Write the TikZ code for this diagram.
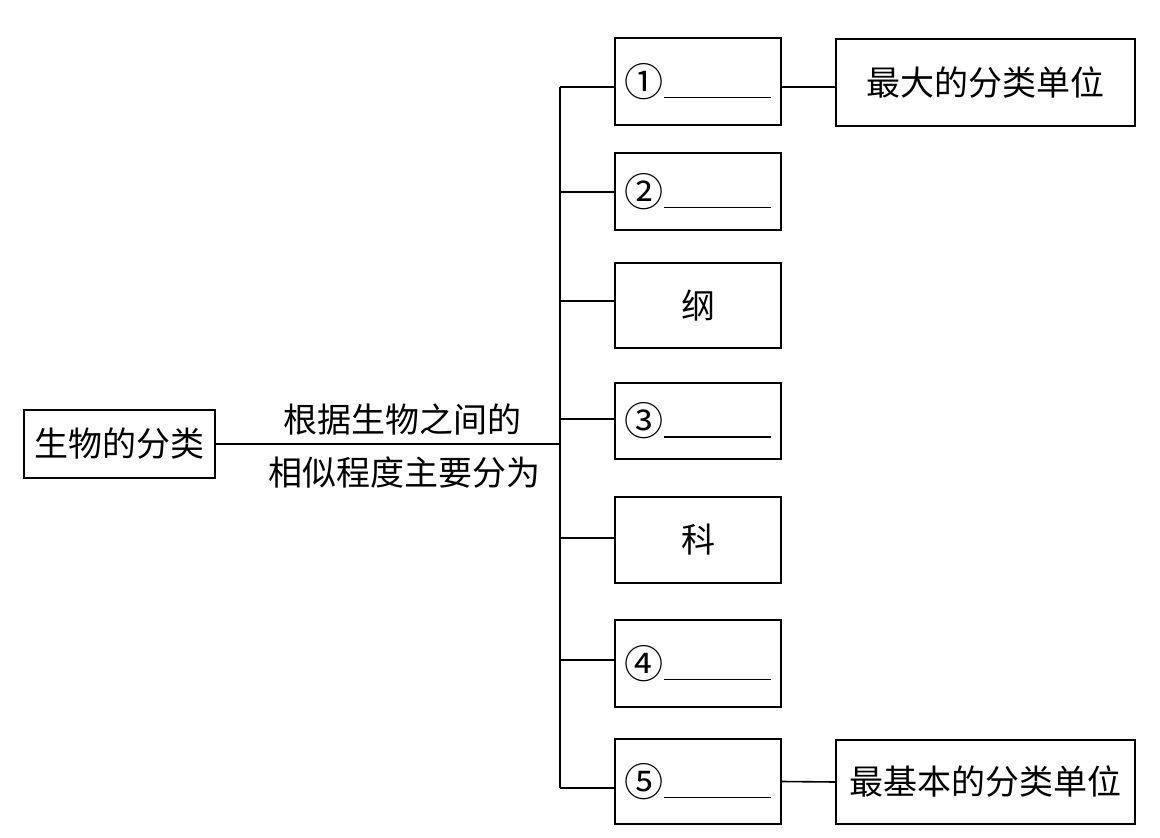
\documentclass[tikz,border=0pt]{standalone}
\usepackage{fontspec}
\setmainfont{Noto Sans CJK SC}
\usetikzlibrary{positioning}
\newcommand{\fillin}{\rule[-4pt]{107pt}{1.6pt}}
\newcommand{\circnum}[1]{\raisebox{-2pt}{\scalebox{1.15}{#1}}\fillin}

\begin{document}
\begin{tikzpicture}[x=1pt,y=-1pt,line width=1.6pt,font=\fontsize{34}{40}\selectfont,
  box/.style={draw,minimum height=#1,inner sep=0pt},
  rank/.style={box=#1,minimum width=166pt}]
\useasboundingbox (0,0) rectangle (1160,838);
\node[box=68pt,minimum width=191pt] (cls) at (119.5,444) {生物的分类};
\node (upper) at (402,420) {根据生物之间的};
\node (lower) at (404.5,473) {相似程度主要分为};
\foreach \y/\h/\txt [count=\i] in {81.5/87/{\circnum{①}},191.5/77/{\circnum{②}},305.5/85/{纲},
  421/76/{\circnum{③}},540/86/{科},663.5/87/{\circnum{④}},781.5/85/{\circnum{⑤}}}
  \node[rank=\h pt] (b\i) at (698,\y) {\txt};
\foreach \y [count=\i] in {87,192,301,419,538,660,788}
  \coordinate (t\i) at (560,\y);
\node[box=87pt,minimum width=299pt] (top) at (985.5,82.5) {最大的分类单位};
\node[box=84pt,minimum width=299pt] (bottom) at (985.5,782) {最基本的分类单位};
\draw (t1) -- (t7);
\foreach \i in {1,...,7}
  \draw (t\i) -- (t\i -| b\i.west);
\draw (cls.east) -- (cls.east -| t1);
\draw (b1.east |- t1) -- (top.west |- t1);
\draw (b7.east) -- (bottom.west);
\end{tikzpicture}
\end{document}
